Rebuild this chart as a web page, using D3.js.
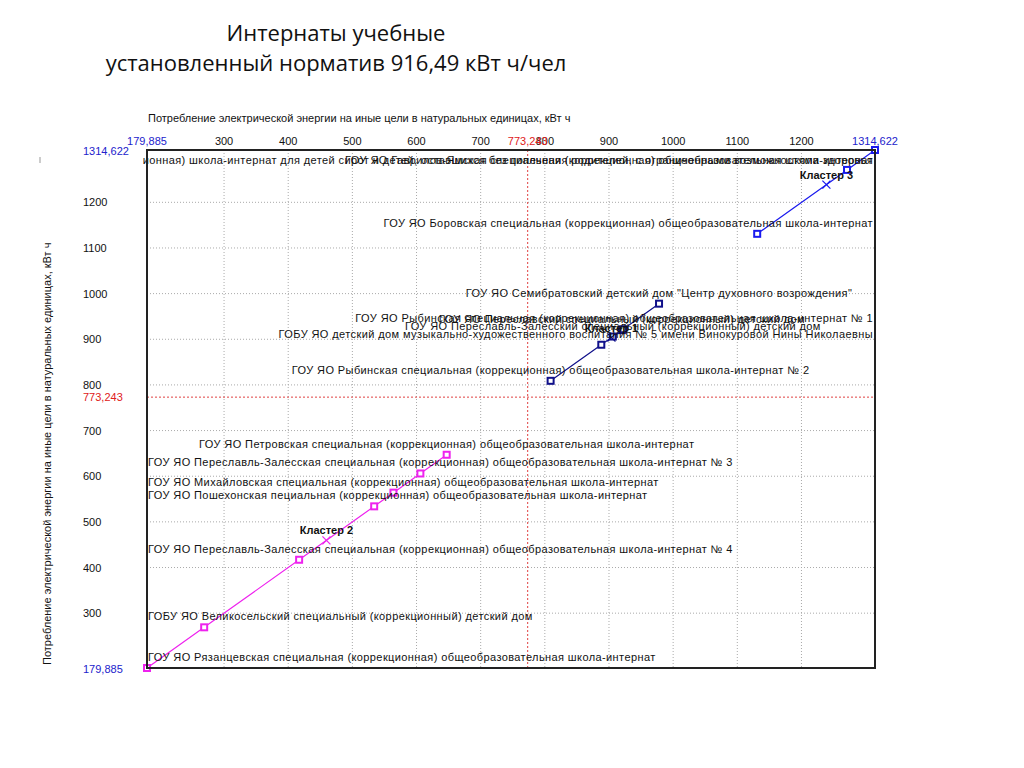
<!DOCTYPE html>
<html><head><meta charset="utf-8">
<script src="https://cdn.jsdelivr.net/npm/d3@7"></script>
<style>
body{margin:0;background:#fff;}
svg{display:block;}
text{font-family:"Liberation Sans",Arial,sans-serif;}
</style></head>
<body>
<svg id="chart" width="1024" height="768"></svg>
<script>
const titleLines = ["Интернаты учебные", "установленный норматив 916,49 кВт ч/чел"];
const xAxisTitle = "Потребление электрической энергии на иные цели в натуральных единицах, кВт ч";
const yAxisTitle = "Потребление электрической энергии на иные цели в натуральных единицах, кВт ч";
const axisMin = 179.885;
const axisMax = 1314.622;
const refValue = 773.243;
const tickValues = [300, 400, 500, 600, 700, 800, 900, 1000, 1100, 1200];
const minLabel = "179,885", maxLabel = "1314,622", refLabelTop = "773,243", refLabelLeft = "773,243";

// cluster 2
const c2Names = [
  "ГОУ ЯО Рязанцевская специальная (коррекционная) общеобразовательная школа-интернат",
  "ГОБУ ЯО Великосельский специальный (коррекционный) детский дом",
  "ГОУ ЯО Переславль-Залесская специальная (коррекционная) общеобразовательная школа-интернат № 4",
  "ГОУ ЯО Пошехонская пециальная (коррекционная) общеобразовательная школа-интернат",
  "ГОУ ЯО Михайловская специальная (коррекционная) общеобразовательная школа-интернат",
  "ГОУ ЯО Переславль-Залесская специальная (коррекционная) общеобразовательная школа-интернат № 3",
  "ГОУ ЯО Петровская специальная (коррекционная) общеобразовательная школа-интернат"
];
const c2Values = [179.885, 269, 417, 534, 564, 606, 647];
// cluster 1
const c1Names = [
  "ГОУ ЯО Рыбинская специальная (коррекционная) общеобразовательная школа-интернат № 2",
  "ГОБУ ЯО детский дом музыкально-художественного воспитания № 5 имени Винокуровой Нины Николаевны",
  "ГОУ ЯО Переславль-Залесский специальный (коррекционный) детский дом",
  "ГОУ ЯО Переславский специальный (коррекционный) детский дом",
  "ГОУ ЯО Рыбинская специальная (коррекционная) общеобразовательная школа-интернат № 1",
  "ГОУ ЯО Семибратовский детский дом \"Центр духовного возрождения\""
];
const c1Values = [809, 888, 906, 920, 922, 978];
// cluster 3
const c3Names = [
  "ГОУ ЯО Боровская специальная (коррекционная) общеобразовательная школа-интернат",
  "ГОУ ЯО Гаврилов-Ямская специальная (коррекционная) общеобразовательная школа-интернат",
  "ГОУ ЯО Ярославская специальная (коррекционная) школа-интернат для детей сирот и детей, оставшихся без попечения родителей, с ограниченными возможностями здоровья"
];
const c3Values = [1131, 1271, 1314.622];

const clusterLabels = ["Кластер 1", "Кластер 2", "Кластер 3"];
const clusterColors = ["#10108a", "#ee22ee", "#1a1aee"];

const clusters = [
  {names: c1Names, values: c1Values},
  {names: c2Names, values: c2Values},
  {names: c3Names, values: c3Values}
];

const svg = d3.select("#chart");
const L = 147, R = 875, T = 150, B = 668;
const x = d3.scaleLinear().domain([axisMin, axisMax]).range([L, R]);
const y = d3.scaleLinear().domain([axisMin, axisMax]).range([B, T]);

// title
svg.selectAll(".title").data(titleLines).enter().append("text")
  .attr("x", 336).attr("y", (d,i) => 41 + i*30)
  .attr("text-anchor", "middle")
  .style("font-family", "'Open Sans', sans-serif")
  .style("font-size", "22px").attr("fill", "#111").text(d => d);

svg.append("text").attr("x", 148).attr("y", 122).style("font-size", "11px")
  .attr("fill", "#111").text(xAxisTitle);

svg.append("text").attr("transform", "translate(51,665) rotate(-90)")
  .style("font-size", "11px").attr("fill", "#111").text(yAxisTitle);
svg.append("line").attr("x1", 40).attr("x2", 40).attr("y1", 157).attr("y2", 163)
  .attr("stroke", "#999");

// gridlines
const grid = svg.append("g");
tickValues.forEach(v => {
  grid.append("line").attr("x1", x(v)).attr("x2", x(v)).attr("y1", T).attr("y2", B)
    .attr("stroke", "#aaa").attr("stroke-width", 1).attr("stroke-dasharray", "1,2");
  grid.append("line").attr("x1", L).attr("x2", R).attr("y1", y(v)).attr("y2", y(v))
    .attr("stroke", "#aaa").attr("stroke-width", 1).attr("stroke-dasharray", "1,2");
});
// reference lines
svg.append("line").attr("x1", x(refValue)).attr("x2", x(refValue)).attr("y1", T).attr("y2", B)
  .attr("stroke", "#e04040").attr("stroke-dasharray", "2,2");
svg.append("line").attr("x1", L).attr("x2", R).attr("y1", y(refValue)).attr("y2", y(refValue))
  .attr("stroke", "#e04040").attr("stroke-dasharray", "2,2");

// top tick labels
svg.selectAll(".tt").data(tickValues).enter().append("text")
  .attr("x", d => x(d)).attr("y", 145).attr("text-anchor", "middle")
  .style("font-size", "11px").attr("fill", "#111").text(d => d);
svg.append("text").attr("x", x(axisMin)).attr("y", 145).attr("text-anchor", "middle")
  .style("font-size", "11px").attr("fill", "#2222cc").text(minLabel);
svg.append("text").attr("x", x(axisMax)).attr("y", 145).attr("text-anchor", "middle")
  .style("font-size", "11px").attr("fill", "#2222cc").text(maxLabel);
svg.append("text").attr("x", x(refValue)).attr("y", 145).attr("text-anchor", "middle")
  .style("font-size", "11px").attr("fill", "#e02020").text(refLabelTop);

// left tick labels
svg.selectAll(".lt").data(tickValues).enter().append("text")
  .attr("x", 83).attr("y", d => y(d) + 4)
  .style("font-size", "11px").attr("fill", "#111").text(d => d);
svg.append("text").attr("x", 83).attr("y", y(axisMax) + 5)
  .style("font-size", "11px").attr("fill", "#2222cc").text(maxLabel);
svg.append("text").attr("x", 83).attr("y", y(axisMin) + 5)
  .style("font-size", "11px").attr("fill", "#2222cc").text(minLabel);
svg.append("text").attr("x", 83).attr("y", y(refValue) + 4)
  .style("font-size", "11px").attr("fill", "#e02020").text(refLabelLeft);

// clip
svg.append("clipPath").attr("id", "clip").append("rect")
  .attr("x", L - 4).attr("y", T + 1).attr("width", R - L + 8).attr("height", B - T + 10);

const plot = svg.append("g");
const labelsG = svg.append("g").attr("clip-path", "url(#clip)");

clusters.forEach((c, ci) => {
  const color = clusterColors[ci];
  const pts = c.values.map((v, i) => ({v, name: c.names[i]}));
  const line = d3.line().x(d => x(d.v)).y(d => y(d.v));
  plot.append("path").datum(pts).attr("d", line).attr("fill", "none")
    .attr("stroke", color).attr("stroke-width", 1.2);
  // point labels
  pts.forEach(p => {
    const t = labelsG.append("text").attr("y", Math.max(y(p.v) - 7, T + 14))
      .style("font-size", "11px").style("letter-spacing", "0.4px").attr("fill", "#111").text(p.name);
    const w = t.node().getComputedTextLength();
    let left = Math.max(x(p.v) - w/2, L + 1);
    left = Math.min(left, R - 2 - w);
    t.attr("x", left);
  });
  // markers
  plot.selectAll(null).data(pts).enter().append("rect")
    .attr("x", d => x(d.v) - 3).attr("y", d => y(d.v) - 3)
    .attr("width", 6).attr("height", 6)
    .attr("fill", "#fff").attr("stroke", color).attr("stroke-width", 2);
  // centroid
  const m = d3.mean(c.values);
  const cx = x(m), cy = y(m);
  plot.append("path").attr("d", `M${cx-4},${cy-4}L${cx+4},${cy+4}M${cx-4},${cy+4}L${cx+4},${cy-4}`)
    .attr("stroke", color).attr("stroke-width", 1.2);
  svg.append("text").attr("x", cx).attr("y", cy - 6).attr("text-anchor", "middle")
    .style("font-size", "11px").style("font-weight", "bold").attr("fill", "#111")
    .text(clusterLabels[ci]);
});

// frame
svg.append("rect").attr("x", L).attr("y", T).attr("width", R - L).attr("height", B - T)
  .attr("fill", "none").attr("stroke", "#222").attr("stroke-width", 2);
</script>
</body></html>
